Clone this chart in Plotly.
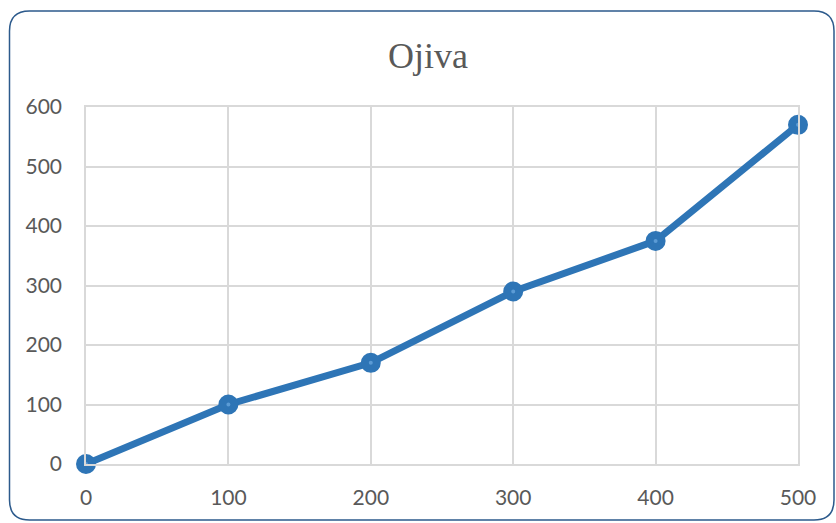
import plotly.graph_objects as go

# Cumulative frequency (ogive) data
x_values = [0, 100, 200, 300, 400, 500]
y_values = [0, 100, 170, 290, 375, 570]
x_ticks = [0, 100, 200, 300, 400, 500]
y_ticks = [0, 100, 200, 300, 400, 500, 600]

W, H = 836, 523
L, R, T, B = 86, 38, 107, 59
pw, ph = W - L - R, H - T - B

def px_x(p):
    return (p - L) / pw

def px_y(p):
    return (H - B - p) / ph

# Rounded chart border in paper coordinates
x0, x1 = px_x(9.5), px_x(834)
y0, y1 = px_y(520), px_y(11)
rx, ry = 20 / pw, 20 / ph
border = (
    f"M {x0 + rx},{y1} L {x1 - rx},{y1} Q {x1},{y1} {x1},{y1 - ry} "
    f"L {x1},{y0 + ry} Q {x1},{y0} {x1 - rx},{y0} "
    f"L {x0 + rx},{y0} Q {x0},{y0} {x0},{y0 + ry} "
    f"L {x0},{y1 - ry} Q {x0},{y1} {x0 + rx},{y1} Z"
)

line_color = "#2E75B6"
grid_color = "#D9D9D9"
text_color = "#595959"

fig = go.Figure()
fig.add_trace(go.Scatter(
    x=x_values, y=y_values, mode="lines+markers",
    line=dict(color=line_color, width=7),
    marker=dict(size=12, color="#5B9BD5", line=dict(color=line_color, width=8)),
    cliponaxis=False, showlegend=False,
))

fig.update_layout(
    width=W, height=H,
    margin=dict(l=L, r=R, t=T, b=B),
    paper_bgcolor="white", plot_bgcolor="white",
    title=dict(text="Ojiva", x=0.512, xanchor="center", y=1 - 55 / H, yanchor="middle",
               font=dict(family="Liberation Serif", size=36, color=text_color)),
    shapes=[dict(type="path", path=border, xref="paper", yref="paper",
                 line=dict(color="#2C5A8C", width=1.5), layer="above")],
)
fig.update_xaxes(range=[0, 500], tickvals=x_ticks, showgrid=True, gridcolor=grid_color,
                 gridwidth=1.5, zeroline=False, showline=True, linecolor=grid_color,
                 linewidth=1.5, mirror=True, ticklabelstandoff=14,
                 tickfont=dict(family="Lato", size=21, color=text_color), fixedrange=True)
fig.update_yaxes(range=[0, 600], tickvals=y_ticks, showgrid=True, gridcolor=grid_color,
                 gridwidth=1.5, zeroline=False, showline=True, linecolor=grid_color,
                 linewidth=1.5, mirror=True, ticklabelstandoff=18,
                 tickfont=dict(family="Lato", size=21, color=text_color), fixedrange=True)

fig.write_html("out.html")
